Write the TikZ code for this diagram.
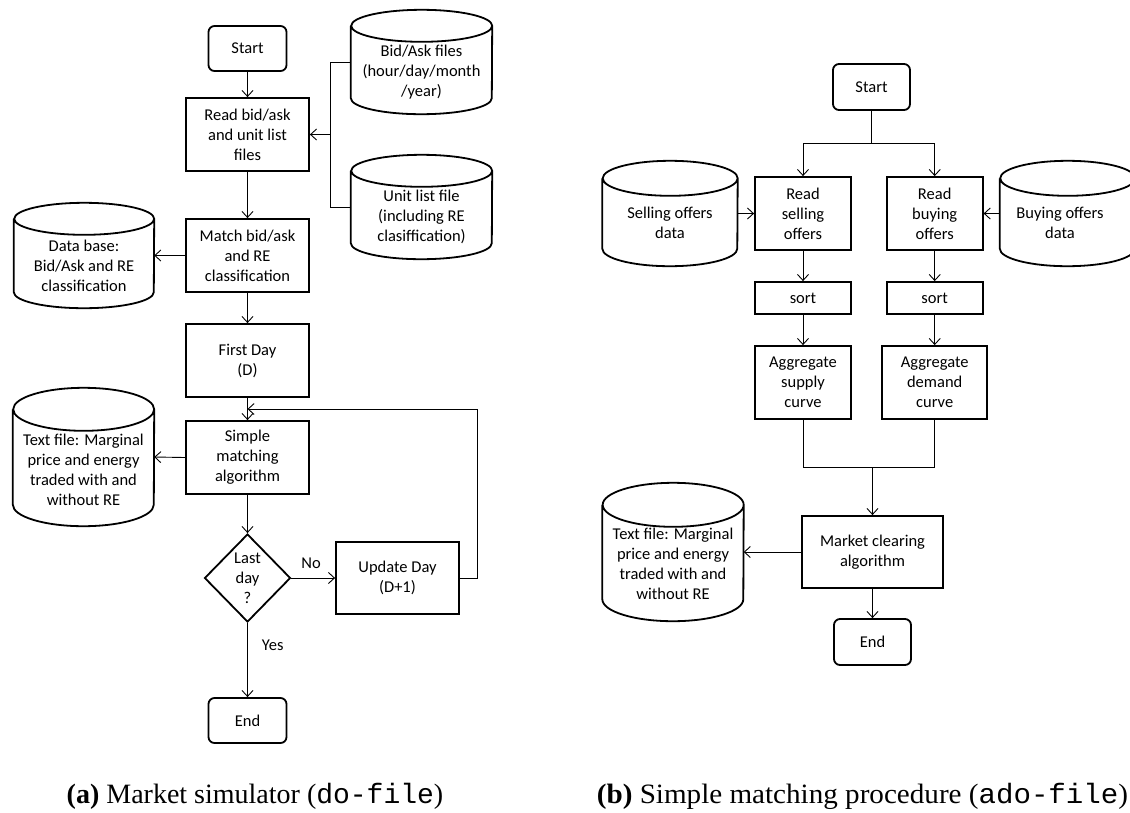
\documentclass[tikz,border=0pt]{standalone}
\usepackage{fontspec}
\setmainfont{Liberation Serif}
\setmonofont{Liberation Mono}
\newfontfamily\calfont{Carlito}
\usetikzlibrary{shapes.geometric,arrows.meta,calc}
\newcommand{\dtxt}{\calfont\fontsize{16.5pt}{20pt}\selectfont}
\newcommand{\captxt}{\rmfamily\fontsize{28pt}{32pt}\selectfont}
\newcommand{\drawcyl}[3]{%
  \draw[boxline] ([yshift=-#3]#1.north west) -- ([yshift=#3]#1.south west)
    arc[start angle=180,end angle=360,x radius=#2,y radius=#3]
    -- ([yshift=-#3]#1.north east)
    arc[start angle=0,end angle=360,x radius=#2,y radius=#3];}
\begin{document}
\begin{tikzpicture}[x=1pt,y=1pt,
  boxline/.style={line width=1.8pt},
  stepbox/.style={draw, line width=1.8pt, rectangle, align=center, inner sep=0pt, font=\dtxt},
  term/.style={stepbox, rounded corners=6pt},
  decide/.style={draw, line width=1.8pt, diamond, aspect=1, align=center, inner sep=0pt, font=\dtxt},
  cylarea/.style={rectangle, inner sep=0pt},
  lbl/.style={align=center, inner sep=0pt, font=\dtxt},
  link/.style={line width=0.9pt},
  conn/.style={line width=0.9pt, -{Straight Barb[length=6pt,width=11pt]}}]
\useasboundingbox (0,0) rectangle (1130,-812);

% ---------------- (a) ----------------
\node[term, minimum width=78pt, minimum height=45pt] (startA) at (247.5,-48.5) {Start};
\node[stepbox, minimum width=123pt, minimum height=73pt] (readA) at (247.5,-134.5) {Read bid/ask\\and unit list\\files};
\node[stepbox, minimum width=123pt, minimum height=73pt] (matchA) at (247.5,-255.5) {Match bid/ask\\and RE\\classification};
\node[stepbox, minimum width=123pt, minimum height=73pt] (firstA) at (247.5,-360.5) {First Day\\(D)};
\node[stepbox, minimum width=123pt, minimum height=73pt] (simpleA) at (247.5,-457.5) {Simple\\matching\\algorithm};
\node[decide, minimum width=86pt, minimum height=88pt] (lastA) at (247.5,-578) {};
\node[lbl] (lastAt) at (lastA.center) {Last\\day\\?};
\node[stepbox, minimum width=123pt, minimum height=72pt] (updA) at (397.5,-578) {Update Day\\(D+1)};
\node[term, minimum width=78pt, minimum height=45pt] (endA) at (247.5,-720.5) {End};

\node[cylarea, minimum width=141pt, minimum height=104pt] (bidA) at (421.5,-62) {};
\drawcyl{bidA}{70.5pt}{16pt}
\node[lbl] (bidAt) at (421.5,-72) {Bid/Ask files\\(hour/day/month\\/year)};
\node[cylarea, minimum width=141pt, minimum height=104pt] (unitA) at (421.5,-207) {};
\drawcyl{unitA}{70.5pt}{16pt}
\node[lbl] (unitAt) at (421.5,-216.5) {Unit list file\\(including RE\\clasiffication)};
\node[cylarea, minimum width=140pt, minimum height=105pt] (dbA) at (84,-255.5) {};
\drawcyl{dbA}{70pt}{16pt}
\node[lbl] (dbAt) at (84,-266) {Data base:\\Bid/Ask and RE\\classification};
\node[cylarea, minimum width=141pt, minimum height=138pt] (txtA) at (83.5,-457) {};
\drawcyl{txtA}{70.5pt}{21.5pt}
\node[lbl] (txtAt) at (83.5,-470) {Text file: Marginal\\price and energy\\traded with and\\without RE};

\coordinate (joinA) at (330,-134.5);
\coordinate (loopA) at (247.5,-409);
\draw[link] (bidA.west) -| (joinA);
\draw[link] (unitA.west) -| (joinA);
\draw[conn] (joinA) -- (readA.east);
\draw[conn] (startA) -- (readA);
\draw[conn] (readA) -- (matchA);
\draw[conn] (matchA) -- (firstA);
\draw[conn] (matchA.west) -- (dbA.east);
\draw[conn] (firstA) -- (simpleA);
\draw[conn] (simpleA.west) -- (txtA.east);
\draw[conn] (simpleA) -- (lastA);
\draw[conn] (lastA) -- node[lbl, pos=0.45, above=9pt] (noA) {No} (updA);
\draw[conn] (lastA) -- node[lbl, pos=0.3, right=14pt] (yesA) {Yes} (endA);
\draw[conn] (updA.east) -- ++(18,0) |- (loopA);

% ---------------- (b) ----------------
\node[term, minimum width=77pt, minimum height=46pt] (startB) at (871.5,-87) {Start};
\node[stepbox, minimum width=96pt, minimum height=73pt] (readS) at (803,-213.5) {Read\\selling\\offers};
\node[stepbox, minimum width=96pt, minimum height=73pt] (readB) at (934.7,-213.5) {Read\\buying\\offers};
\node[stepbox, minimum width=96pt, minimum height=32pt] (sortS) at (803,-298) {sort};
\node[stepbox, minimum width=96pt, minimum height=32pt] (sortB) at (934.7,-298) {sort};
\node[stepbox, minimum width=96pt, minimum height=73pt] (aggS) at (803,-382.5) {Aggregate\\supply\\curve};
\node[stepbox, minimum width=105pt, minimum height=73pt] (aggD) at (934.7,-382.5) {Aggregate\\demand\\curve};
\node[stepbox, minimum width=141pt, minimum height=72pt] (mktB) at (872.5,-552) {Market clearing\\algorithm};
\node[term, minimum width=77pt, minimum height=46pt] (endB) at (872.5,-642) {End};

\node[cylarea, minimum width=135pt, minimum height=105pt] (sellC) at (670,-213.5) {};
\drawcyl{sellC}{67.5pt}{17.5pt}
\node[lbl] (sellCt) at (670,-223) {Selling offers\\data};
\node[cylarea, minimum width=135pt, minimum height=105pt] (buyC) at (1067.5,-213.5) {};
\drawcyl{buyC}{67.5pt}{17.5pt}
\node[lbl] (buyCt) at (1060,-223) {Buying offers\\data};
\node[cylarea, minimum width=141pt, minimum height=138pt] (txtB) at (673,-552) {};
\drawcyl{txtB}{70.5pt}{22pt}
\node[lbl] (txtBt) at (673,-564) {Text file: Marginal\\price and energy\\traded with and\\without RE};

\coordinate (splitB) at (871.5,-143);
\coordinate (mergeB) at (872.5,-467);
\draw[link] (startB) -- (splitB);
\draw[conn] (splitB) -| (readS.north);
\draw[conn] (splitB) -| (readB.north);
\draw[conn] (sellC.east) -- (readS.west);
\draw[conn] (buyC.west) -- (readB.east);
\draw[conn] (readS) -- (sortS);
\draw[conn] (readB) -- (sortB);
\draw[conn] (sortS) -- (aggS);
\draw[conn] (sortB) -- (aggD);
\draw[link] (aggS.south) |- (mergeB);
\draw[link] (aggD.south) |- (mergeB);
\draw[conn] (mergeB) -- (mktB.north);
\draw[conn] (mktB.west) -- (txtB.east);
\draw[conn] (mktB) -- (endB);

% ---------------- captions ----------------
\node[inner sep=0pt, font=\captxt] (capA) at (255,-796) {\textbf{(a)} Market simulator (\texttt{do-file})};
\node[inner sep=0pt, font=\captxt] (capB) at (862.5,-796) {\scalebox{1.04}[1]{\textbf{(b)} Simple matching procedure (\texttt{ado-file})}};
\end{tikzpicture}
\end{document}
